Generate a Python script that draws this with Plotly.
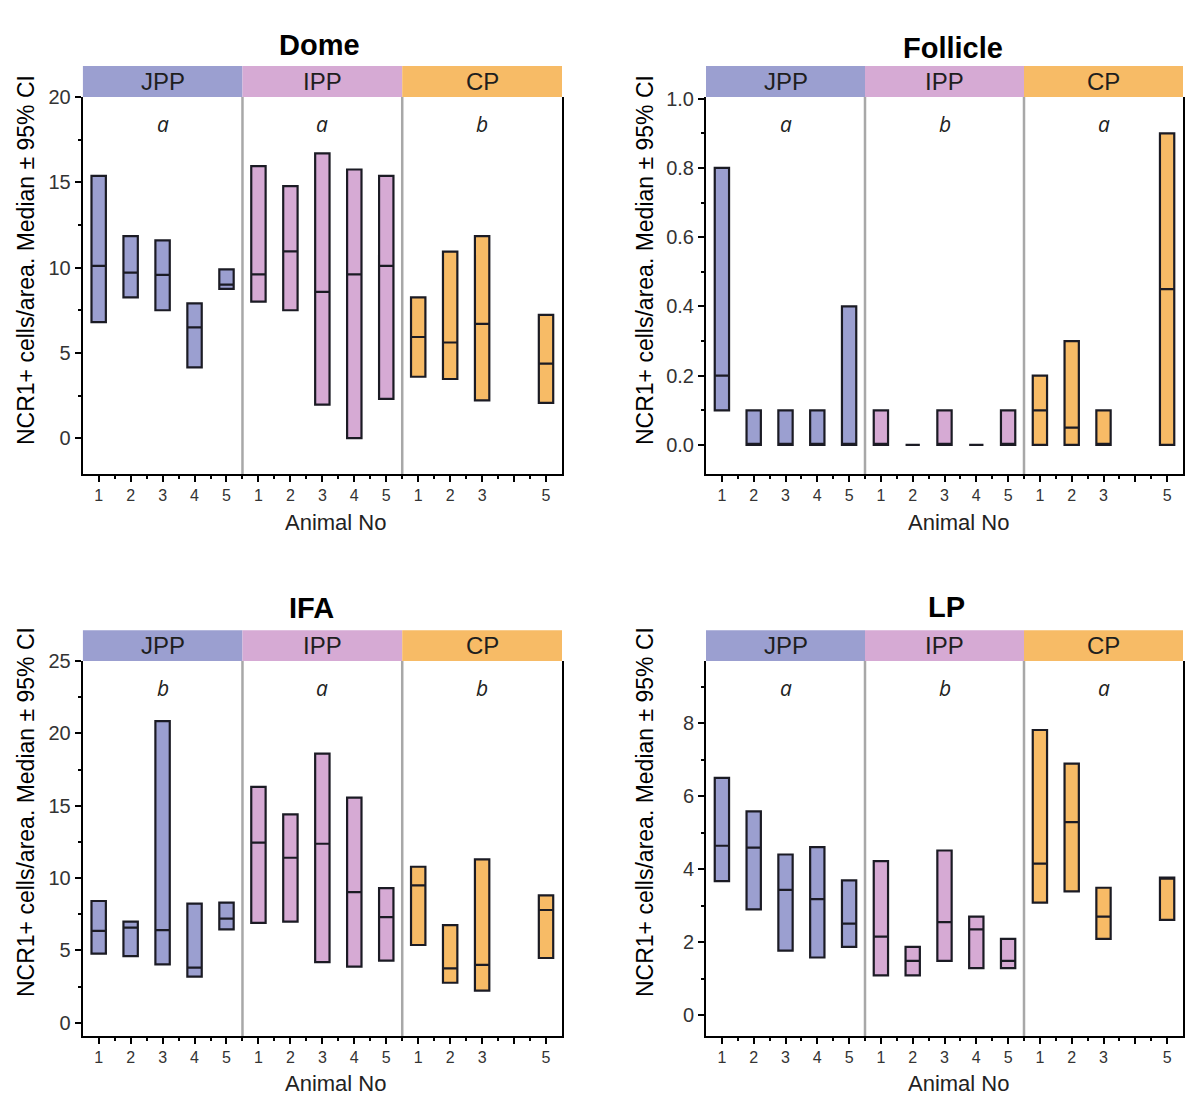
import plotly.graph_objects as go
from plotly.subplots import make_subplots

# -------------------------
# DATA
# -------------------------
groups = ["JPP", "IPP", "CP"]
group_colors = ["#9b9fd0", "#d6aad4", "#f7bb66"]

# animal number and group for every interval (CP animal 4 has no data)
animal_no = [1, 2, 3, 4, 5, 1, 2, 3, 4, 5, 1, 2, 3, 5]
animal_group = ["JPP"] * 5 + ["IPP"] * 5 + ["CP"] * 4
tick_labels = ["1", "2", "3", "4", "5", "1", "2", "3", "4", "5", "1", "2", "3", "", "5"]

dome_low = [6.8, 8.25, 7.5, 4.15, 8.75, 8.0, 7.5, 1.97, 0.0, 2.3, 3.6, 3.47, 2.22, 2.07]
dome_med = [10.1, 9.7, 9.57, 6.5, 9.0, 9.6, 10.95, 8.58, 9.6, 10.1, 5.93, 5.61, 6.7, 4.37]
dome_high = [15.38, 11.85, 11.6, 7.9, 9.9, 15.95, 14.78, 16.7, 15.75, 15.38, 8.25, 10.94, 11.85, 7.23]
dome_letters = ["a", "a", "b"]

follicle_low = [0.1, 0.0, 0.0, 0.0, 0.0, 0.0, 0.0, 0.0, 0.0, 0.0, 0.0, 0.0, 0.0, 0.0]
follicle_med = [0.2, 0.0, 0.0, 0.0, 0.0, 0.0, 0.0, 0.0, 0.0, 0.0, 0.1, 0.05, 0.0, 0.45]
follicle_high = [0.8, 0.1, 0.1, 0.1, 0.4, 0.1, 0.0, 0.1, 0.0, 0.1, 0.2, 0.3, 0.1, 0.9]
follicle_letters = ["a", "b", "a"]

ifa_low = [4.77, 4.6, 4.03, 3.18, 6.45, 6.9, 6.98, 4.19, 3.87, 4.29, 5.37, 2.76, 2.21, 4.47]
ifa_med = [6.34, 6.57, 6.4, 3.8, 7.19, 12.44, 11.4, 12.37, 9.03, 7.3, 9.49, 3.76, 3.99, 7.79]
ifa_high = [8.41, 6.98, 20.85, 8.23, 8.3, 16.3, 14.4, 18.6, 15.55, 9.3, 10.78, 6.75, 11.29, 8.8]
ifa_letters = ["b", "a", "b"]

lp_low = [3.67, 2.9, 1.77, 1.58, 1.87, 1.09, 1.09, 1.49, 1.29, 1.29, 3.08, 3.39, 2.09, 2.61]
lp_med = [4.64, 4.59, 3.43, 3.18, 2.51, 2.15, 1.49, 2.55, 2.35, 1.49, 4.15, 5.29, 2.7, 3.75]
lp_high = [6.5, 5.58, 4.4, 4.6, 3.69, 4.22, 1.87, 4.51, 2.7, 2.09, 7.81, 6.89, 3.49, 3.77]
lp_letters = ["a", "b", "a"]

panels = [
    dict(title="Dome", low=dome_low, med=dome_med, high=dome_high, letters=dome_letters,
         yrange=[-2.1, 20], dtick=5, minor=2.5, fmt=""),
    dict(title="Follicle", low=follicle_low, med=follicle_med, high=follicle_high,
         letters=follicle_letters, yrange=[-0.084, 1.005], dtick=0.2, minor=0.1, fmt=".1f"),
    dict(title="IFA", low=ifa_low, med=ifa_med, high=ifa_high, letters=ifa_letters,
         yrange=[-0.92, 25], dtick=5, minor=2.5, fmt=""),
    dict(title="LP", low=lp_low, med=lp_med, high=lp_high, letters=lp_letters,
         yrange=[-0.57, 9.7], dtick=2, minor=1, fmt=""),
]

# -------------------------
# LAYOUT GEOMETRY (pixels -> paper)
# -------------------------
W, H = 1200, 1106
x_domains = [[82.7 / W, 562 / W], [706 / W, 1183 / W]]
y_domains = [[1 - 474 / H, 1 - 97 / H], [1 - 1036 / H, 1 - 661 / H]]
title_pos = [[(319, 45), (953, 48)], [(311, 608), (946, 607)]]
ytitle_x = [26 / W, 645 / W]
ytitle_y = [1 - 260 / H, 1 - 812 / H]
xtitle_x = [335 / W, 958 / W]
xtitle_y = [1 - 522 / H, 1 - 1083 / H]

FONT = "Liberation Sans, Arial, sans-serif"
header_h = 31 / 377

fig = make_subplots(rows=2, cols=2)


def note(**kw):
    kw.setdefault("showarrow", False)
    kw.setdefault("xanchor", "center")
    kw.setdefault("yanchor", "middle")
    fig.add_annotation(**kw)


for i, p in enumerate(panels):
    r, c = divmod(i, 2)
    ax = "" if i == 0 else str(i + 1)

    # -------------------------
    # INTERVAL BOXES
    # -------------------------
    for g, (grp, col) in enumerate(zip(groups, group_colors)):
        idx = [k for k, a in enumerate(animal_group) if a == grp]
        xs = [g * 5 + animal_no[k] for k in idx]
        lo = [p["low"][k] for k in idx]
        md = [p["med"][k] for k in idx]
        hi = [p["high"][k] for k in idx]
        fig.add_trace(
            go.Box(
                x=xs, q1=lo, median=md, q3=hi, lowerfence=lo, upperfence=hi,
                width=0.45, whiskerwidth=0, fillcolor=col,
                line=dict(color="#1b1b24", width=2.2),
                showlegend=False, name=grp,
            ),
            row=r + 1, col=c + 1,
        )

        # header band + group name
        fig.add_shape(type="rect", xref="x" + ax, yref="y" + ax + " domain",
                      x0=g * 5 + 0.5, x1=g * 5 + 5.5, y0=1, y1=1 + header_h,
                      fillcolor=col, line_width=0, layer="below")
        note(xref="x" + ax, yref="y" + ax + " domain",
             x=g * 5 + 3, y=1 + header_h / 2, text=grp,
             font=dict(family=FONT, size=24, color="#1e1e1e"))
        note(xref="x" + ax, yref="y" + ax + " domain",
             x=g * 5 + 3, y=1 - 27 / 377, text="<i>%s</i>" % p["letters"][g],
             font=dict(family="Open Sans, sans-serif", size=21, color="#222"))

    # group separators
    for sx in [5.5, 10.5]:
        fig.add_shape(type="line", xref="x" + ax, yref="y" + ax + " domain",
                      x0=sx, x1=sx, y0=0, y1=1, line=dict(color="#a8a8a8", width=2.5))

    # titles
    tx, ty = title_pos[r][c]
    note(xref="paper", yref="paper", x=tx / W, y=1 - ty / H,
         text="<b>%s</b>" % p["title"],
         font=dict(family=FONT, size=29, color="black"))
    note(xref="paper", yref="paper", x=ytitle_x[c], y=ytitle_y[r],
         text="NCR1+ cells/area. Median ± 95% CI", textangle=-90,
         font=dict(family=FONT, size=23, color="black"))
    note(xref="paper", yref="paper", x=xtitle_x[c], y=xtitle_y[r],
         text="Animal No", font=dict(family=FONT, size=22, color="#222"))

    # -------------------------
    # AXES
    # -------------------------
    fig.update_xaxes(
        domain=x_domains[c], range=[0.5, 15.5],
        tickvals=list(range(1, 16)), ticktext=tick_labels,
        showline=True, linecolor="black", linewidth=2,
        ticks="outside", ticklen=6, tickwidth=2, tickcolor="black",
        minor=dict(tickvals=[k + 0.5 for k in range(1, 15)], ticks="outside",
                   ticklen=3, tickwidth=1.5, tickcolor="black"),
        tickfont=dict(family=FONT, size=16, color="#333"),
        showgrid=False, zeroline=False,
        row=r + 1, col=c + 1,
    )
    fig.update_yaxes(
        domain=y_domains[r], range=p["yrange"], tick0=0, dtick=p["dtick"],
        tickformat=p["fmt"],
        showline=True, mirror=True, linecolor="black", linewidth=2,
        ticks="outside", ticklen=6, tickwidth=2, tickcolor="black",
        minor=dict(dtick=p["minor"], tick0=0, ticks="outside", ticklen=3,
                   tickwidth=1.5, tickcolor="black"),
        tickfont=dict(family=FONT, size=20, color="#333"),
        showgrid=False, zeroline=False,
        row=r + 1, col=c + 1,
    )

# -------------------------
# STYLE
# -------------------------
fig.update_layout(
    width=W, height=H, autosize=False,
    margin=dict(l=0, r=0, t=0, b=0, autoexpand=False),
    paper_bgcolor="white", plot_bgcolor="white",
    boxmode="overlay",
    font=dict(family=FONT),
)

fig.write_html("out.html", config={"displayModeBar": False},
               post_script="document.body.style.margin='0';")
